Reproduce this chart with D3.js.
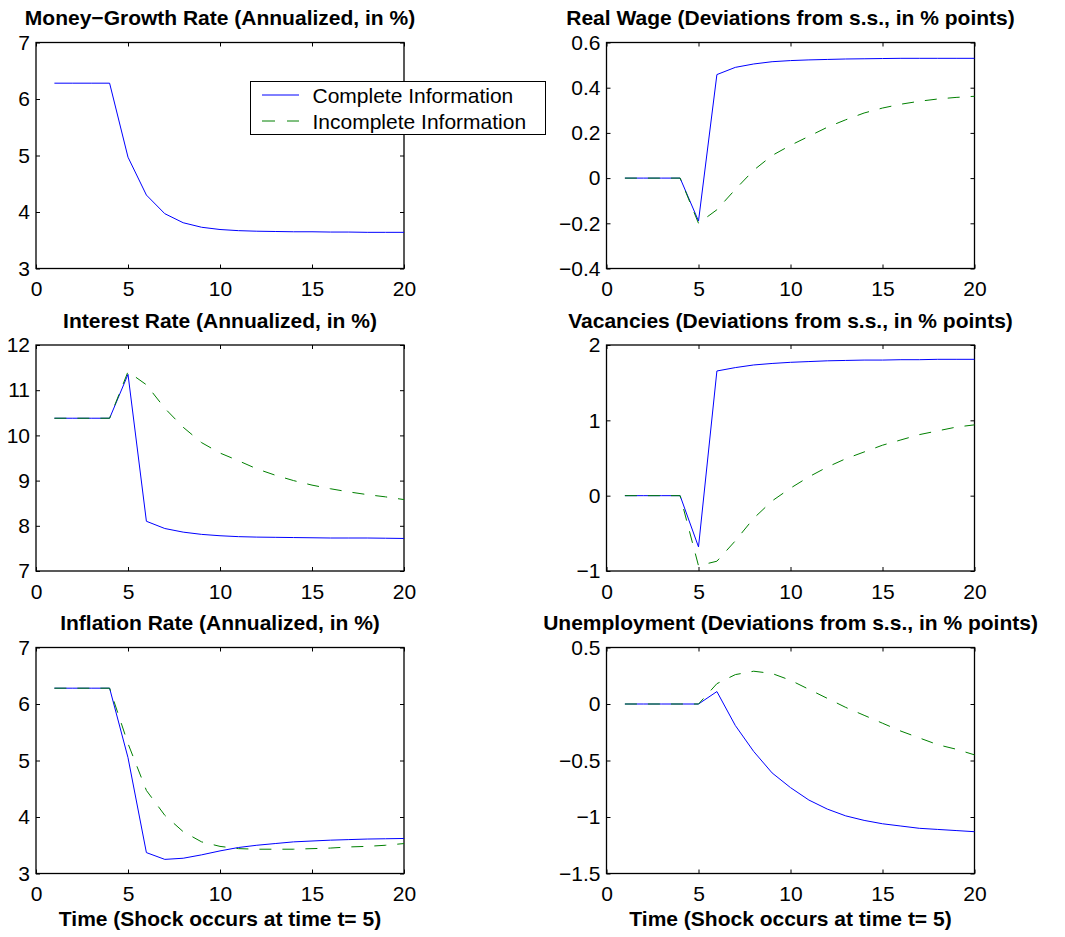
<!DOCTYPE html>
<html>
<head>
<meta charset="utf-8">
<script src="https://cdn.jsdelivr.net/npm/d3@7"></script>
<style>
  body { margin: 0; background: #fff; }
  text { font-family: "Liberation Sans", Arial, sans-serif; }
</style>
</head>
<body>
<div id="chart"></div>
<script>
// time index of the impulse responses
const periods = [1, 2, 3, 4, 5, 6, 7, 8, 9, 10, 11, 12, 13, 14, 15, 16, 17, 18, 19, 20];
const xTicks = [0, 5, 10, 15, 20];

const moneyComplete = [6.28, 6.28, 6.28, 6.28, 4.97, 4.30, 3.97, 3.81, 3.73, 3.69, 3.67, 3.66, 3.655, 3.65, 3.65, 3.645, 3.645, 3.64, 3.64, 3.64];

const wageComplete = [0, 0, 0, 0, -0.19, 0.458, 0.49, 0.505, 0.515, 0.52, 0.523, 0.525, 0.527, 0.528, 0.529, 0.53, 0.53, 0.53, 0.53, 0.53];
const wageIncomplete = [0, 0, 0, 0, -0.20, -0.14, -0.05, 0.035, 0.10, 0.145, 0.185, 0.225, 0.258, 0.288, 0.31, 0.327, 0.34, 0.35, 0.357, 0.362];

const rateComplete = [10.38, 10.38, 10.38, 10.38, 11.35, 8.10, 7.94, 7.86, 7.81, 7.78, 7.76, 7.75, 7.745, 7.74, 7.735, 7.73, 7.73, 7.73, 7.725, 7.72];
const rateIncomplete = [10.38, 10.38, 10.38, 10.38, 11.41, 11.12, 10.60, 10.18, 9.84, 9.61, 9.44, 9.26, 9.12, 9.00, 8.90, 8.82, 8.75, 8.69, 8.64, 8.58];

const vacComplete = [0, 0, 0, 0, -0.68, 1.655, 1.70, 1.735, 1.755, 1.77, 1.78, 1.79, 1.795, 1.80, 1.80, 1.805, 1.805, 1.81, 1.81, 1.81];
const vacIncomplete = [0, 0, 0, 0, -0.93, -0.87, -0.60, -0.30, -0.07, 0.10, 0.25, 0.38, 0.49, 0.58, 0.67, 0.74, 0.81, 0.86, 0.91, 0.94];

const inflComplete = [6.28, 6.28, 6.28, 6.28, 5.05, 3.37, 3.25, 3.27, 3.33, 3.40, 3.46, 3.50, 3.53, 3.56, 3.575, 3.59, 3.60, 3.61, 3.615, 3.62];
const inflIncomplete = [6.28, 6.28, 6.28, 6.28, 5.30, 4.47, 4.03, 3.74, 3.56, 3.48, 3.44, 3.43, 3.43, 3.43, 3.44, 3.45, 3.47, 3.48, 3.50, 3.53];

const unempComplete = [0, 0, 0, 0, 0, 0.11, -0.19, -0.42, -0.61, -0.74, -0.85, -0.93, -0.99, -1.03, -1.06, -1.08, -1.10, -1.11, -1.12, -1.13];
const unempIncomplete = [0, 0, 0, 0, 0, 0.18, 0.26, 0.29, 0.27, 0.21, 0.13, 0.05, -0.03, -0.10, -0.17, -0.24, -0.30, -0.36, -0.40, -0.45];

const titles = [
  'Money\u2212Growth Rate (Annualized, in %)',
  'Real Wage (Deviations from s.s., in % points)',
  'Interest Rate (Annualized, in %)',
  'Vacancies (Deviations from s.s., in % points)',
  'Inflation Rate (Annualized, in %)',
  'Unemployment (Deviations from s.s., in % points)'
];
const yTicks = [
  [3, 4, 5, 6, 7],
  [-0.4, -0.2, 0, 0.2, 0.4, 0.6],
  [7, 8, 9, 10, 11, 12],
  [-1, 0, 1, 2],
  [3, 4, 5, 6, 7],
  [-1.5, -1, -0.5, 0, 0.5]
];
const seriesComplete = [moneyComplete, wageComplete, rateComplete, vacComplete, inflComplete, unempComplete];
const seriesIncomplete = [null, wageIncomplete, rateIncomplete, vacIncomplete, inflIncomplete, unempIncomplete];
const legendLabels = ['Complete Information', 'Incomplete Information'];
const xLabel = 'Time (Shock occurs at time t= 5)';

const blue = '#0000ff';
const green = '#008000';

const svg = d3.select('#chart')
    .append('svg')
    .attr('width', 1065)
    .attr('height', 937);

// panel frames: left, top, width, height
const cols = [36, 606.5];
const rows = [42.5, 345, 647.5];
const pw = 368, ph = 226;
const fmt = d3.format('~g');

for (let i = 0; i < 6; i++) {
    const left = cols[i % 2];
    const top = rows[Math.floor(i / 2)];
    const g = svg.append('g').attr('transform', 'translate(' + left + ',' + top + ')');

    const ticks = yTicks[i];
    const x = d3.scaleLinear().domain([0, 20]).range([0, pw]);
    const y = d3.scaleLinear().domain([ticks[0], ticks[ticks.length - 1]]).range([ph, 0]);

    // bottom axis with labels
    const xb = g.append('g')
        .attr('transform', 'translate(0,' + ph + ')')
        .call(d3.axisBottom(x).tickValues(xTicks).tickSize(-4).tickPadding(13).tickFormat(fmt));
    // top axis ticks only
    const xt = g.append('g')
        .call(d3.axisTop(x).tickValues(xTicks).tickSize(-4).tickFormat(''));
    // left axis with labels
    const yl = g.append('g')
        .call(d3.axisLeft(y).tickValues(ticks).tickSize(-4).tickPadding(6).tickFormat(fmt));
    // right axis ticks only
    const yr = g.append('g')
        .attr('transform', 'translate(' + pw + ',0)')
        .call(d3.axisRight(y).tickValues(ticks).tickSize(-4).tickFormat(''));

    [xb, xt, yl, yr].forEach(a => {
        a.select('.domain').remove();
        a.selectAll('.tick line').attr('stroke', '#000');
        a.selectAll('.tick text')
            .attr('fill', '#000')
            .style('font-size', '21px')
            .style('font-family', '"Liberation Sans", Arial, sans-serif');
    });

    g.append('rect')
        .attr('width', pw)
        .attr('height', ph)
        .attr('fill', 'none')
        .attr('stroke', '#000')
        .attr('stroke-width', 1.3);

    const line = d3.line()
        .x((d, j) => x(periods[j]))
        .y(d => y(d));

    g.append('path')
        .datum(seriesComplete[i])
        .attr('fill', 'none')
        .attr('stroke', blue)
        .attr('stroke-width', 1)
        .attr('d', line);

    if (seriesIncomplete[i]) {
        g.append('path')
            .datum(seriesIncomplete[i])
            .attr('fill', 'none')
            .attr('stroke', green)
            .attr('stroke-width', 1)
            .attr('stroke-dasharray', '12,11')
            .attr('d', line);
    }

    g.append('text')
        .attr('x', pw / 2)
        .attr('y', -17.5)
        .attr('text-anchor', 'middle')
        .style('font-size', '21px')
        .style('font-weight', 'bold')
        .text(titles[i]);

    if (i >= 4) {
        g.append('text')
            .attr('x', pw / 2)
            .attr('y', ph + 52)
            .attr('text-anchor', 'middle')
            .style('font-size', '21px')
            .style('font-weight', 'bold')
            .text(xLabel);
    }
}

// Legend in first panel
const lg = svg.append('g').attr('transform', 'translate(250.5,81.5)');
lg.append('rect')
    .attr('width', 295)
    .attr('height', 53)
    .attr('fill', '#fff')
    .attr('stroke', '#000')
    .attr('stroke-width', 1);
const legendColors = [blue, green];
legendLabels.forEach((lab, k) => {
    const yy = 13.5 + k * 26;
    lg.append('line')
        .attr('x1', 11.5).attr('x2', 48.5)
        .attr('y1', yy).attr('y2', yy)
        .attr('stroke', legendColors[k])
        .attr('stroke-width', 1)
        .attr('stroke-dasharray', k === 1 ? '13,12' : null);
    lg.append('text')
        .attr('x', 62)
        .attr('y', yy + 8)
        .style('font-size', '21px')
        .text(lab);
});
</script>
</body>
</html>
